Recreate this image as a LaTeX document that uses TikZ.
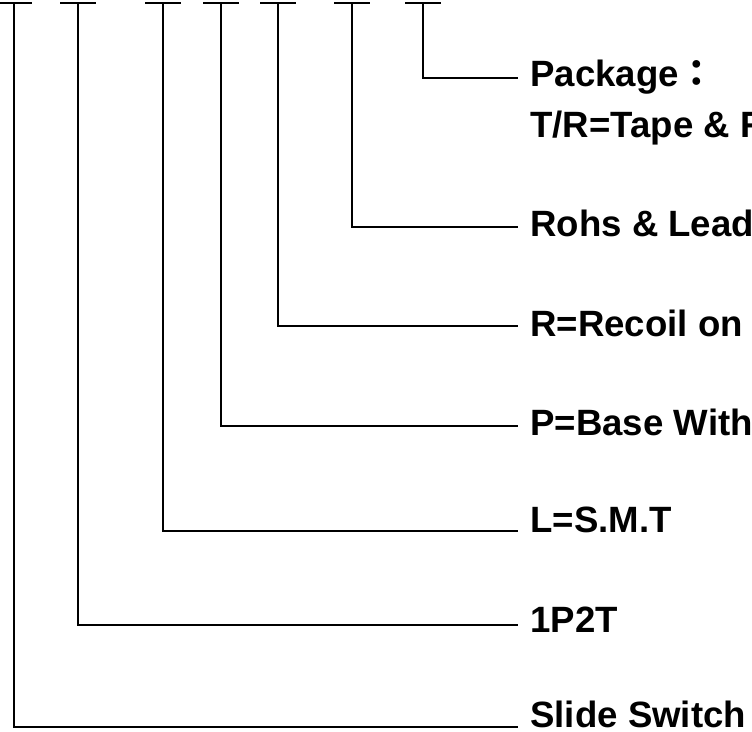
\documentclass[tikz,border=0pt]{standalone}
\usepackage{fontspec}
\setmainfont{Liberation Sans}
\newfontfamily\cjk{Noto Sans CJK TC}
\usepackage{tikz}
\usepackage{xcolor}
\definecolor{ink}{HTML}{000000}
\tikzset{
  every node/.style={font=\fontsize{18.3}{25.5}\selectfont\bfseries,text=ink},
  tick/.style={draw=ink,line width=1pt},
  lead/.style={draw=ink,line width=1pt},
  code/.style={anchor=base west,inner sep=0pt,align=left},
}

\begin{document}
\begin{tikzpicture}[x=0.5pt,y=-0.5pt]
  \useasboundingbox (0,0) rectangle (752,732);
  \clip (0,0) rectangle (752,732);

  % one T for each part of the code
  \foreach \name/\px in {sw/14,pole/78,smt/163,base/221,recoil/278,rohs/352,pack/423}{
    \coordinate (\name) at (\px,3);
    \draw[tick] ([xshift=-9pt]\name) -- ([xshift=9pt]\name);
  }

  \node[code] (packtxt) at (530,138) {Package{\cjk ：}\\T/R=Tape \& R};
  \node[code] (rohstxt) at (530,237) {Rohs \& Lead};
  \node[code] (recoiltxt) at (530,337) {R=Recoil on};
  \node[code] (basetxt) at (530,436) {P=Base With};
  \node[code] (smttxt) at (530,533) {L=S.M.T};
  \node[code] (poletxt) at (530,633) {1P2T};
  \node[code] (swtxt) at (530,728) {Slide Switch};

  % where each leader line stops, just left of its text
  \foreach \name/\ly in {pack/78,rohs/227,recoil/326,base/426,smt/531,pole/625,sw/727}{
    \coordinate (\name end) at (518,\ly);
    \draw[lead] (\name) |- (\name end);
  }
\end{tikzpicture}
\end{document}
